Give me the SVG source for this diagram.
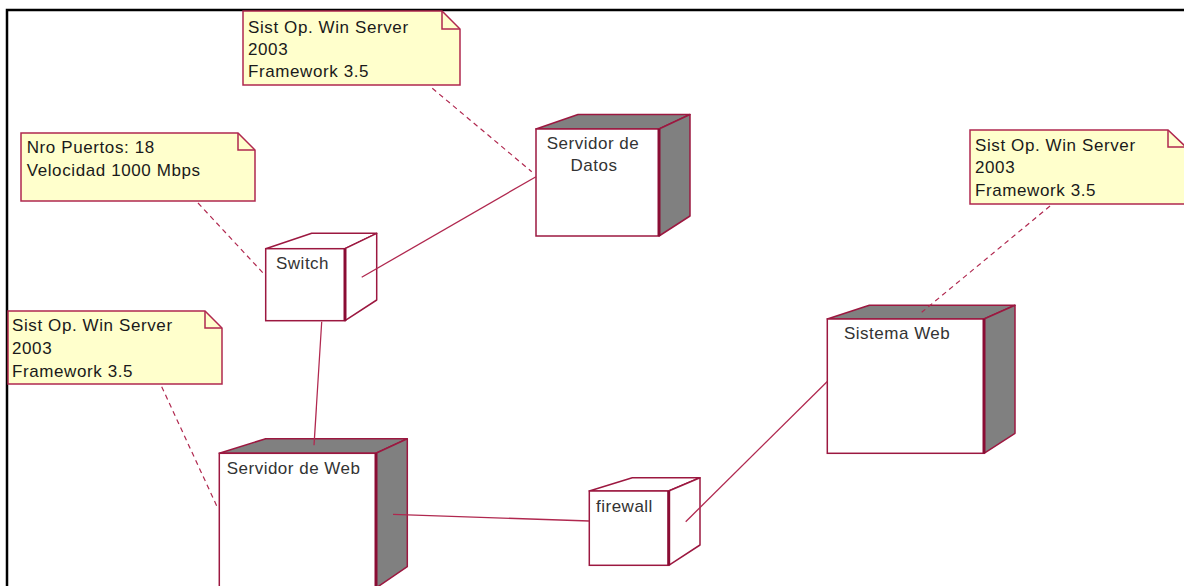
<svg xmlns="http://www.w3.org/2000/svg" width="1184" height="586" viewBox="0 0 1184 586">
<style>
.frame{fill:none;stroke:#000;stroke-width:2.5}
.note{fill:#ffffcc;stroke:#b0284f;stroke-width:1.5;stroke-linejoin:miter}
.fold{fill:none;stroke:#b0284f;stroke-width:1.5}
.front{fill:#fff;stroke:#9c1840;stroke-width:1.5}
.edge{stroke:#8a0c34;stroke-width:3}
.dark{fill:#808080;stroke:#9c1840;stroke-width:1.5;stroke-linejoin:round}
.light{fill:#fff;stroke:#9c1840;stroke-width:1.5;stroke-linejoin:round}
.conn{stroke:#b0284f;stroke-width:1.3;fill:none}
.dash{stroke:#b0284f;stroke-width:1.2;fill:none;stroke-dasharray:5 4}
.t{font-family:"Liberation Sans",Arial,sans-serif;font-size:17px;letter-spacing:0.6px;fill:#1a1a1a}
.nl{font-family:"Liberation Sans",Arial,sans-serif;font-size:17px;letter-spacing:0.5px;fill:#333}
</style>
<rect width="1184" height="586" fill="#fff"/>
<path class="frame" d="M7,586 V10 H1184"/>

<g id="note-datos">
<path class="note" d="M243,11 H442 L460,29 V85 H243 Z"/>
<path class="fold" d="M442,11 V29 H460"/>
<text class="t" x="248" y="32.7">Sist Op. Win Server</text>
<text class="t" x="248" y="55">2003</text>
<text class="t" x="248" y="77.3">Framework 3.5</text>
</g>

<g id="note-switch">
<path class="note" d="M21,133 H238 L255,150 V201 H21 Z"/>
<path class="fold" d="M238,133 V150 H255"/>
<text class="t" x="26.7" y="153.3">Nro Puertos: 18</text>
<text class="t" x="26.7" y="175.7">Velocidad 1000 Mbps</text>
</g>

<g id="note-sistema">
<path class="note" d="M970,130 H1168 L1186,147 V204 H970 Z"/>
<path class="fold" d="M1168,130 V147 H1186"/>
<text class="t" x="975" y="150.7">Sist Op. Win Server</text>
<text class="t" x="975" y="172.7">2003</text>
<text class="t" x="975" y="195.5">Framework 3.5</text>
</g>

<g id="note-web">
<path class="note" d="M8,311 H205 L222,328 V384 H8 Z"/>
<path class="fold" d="M205,311 V328 H222"/>
<text class="t" x="12" y="331">Sist Op. Win Server</text>
<text class="t" x="12" y="354">2003</text>
<text class="t" x="12" y="377">Framework 3.5</text>
</g>

<g id="node-datos">
<path class="dark" d="M536,129 L578,114.5 H690 L659,129 Z"/>
<path class="dark" d="M659,129 L690,114.5 V216 L659,236 Z"/>
<rect class="front" x="536" y="129" width="123" height="107"/>
<line class="edge" x1="659" y1="129" x2="659" y2="236"/>
<text class="nl" x="593" y="149.3" text-anchor="middle">Servidor de</text>
<text class="nl" x="594" y="171.3" text-anchor="middle">Datos</text>
</g>

<g id="node-switch">
<path class="light" d="M265.7,248.7 L311.7,233.3 H376.7 L345,248.7 Z"/>
<path class="light" d="M345,248.7 L376.7,233.3 V300 L345,320.7 Z"/>
<rect class="front" x="265.7" y="248.7" width="79.3" height="72"/>
<line class="edge" x1="345" y1="248.7" x2="345" y2="320.7"/>
<text class="nl" x="276" y="269.3">Switch</text>
</g>

<g id="node-web">
<path class="dark" d="M219.3,453.3 L265.7,438.7 H407.3 L376,453.3 Z"/>
<path class="dark" d="M376,453.3 L407.3,438.7 V566.7 L376,588 Z"/>
<rect class="front" x="219.3" y="453.3" width="156.7" height="140"/>
<line class="edge" x1="376" y1="453.3" x2="376" y2="590"/>
<text class="nl" x="226.7" y="474.3">Servidor de Web</text>
</g>

<g id="node-firewall">
<path class="light" d="M589.3,491 L632.3,477.7 H700 L668.7,491 Z"/>
<path class="light" d="M668.7,491 L700,477.7 V545 L668.7,565.3 Z"/>
<rect class="front" x="589.3" y="491" width="79.4" height="74.3"/>
<line class="edge" x1="668.7" y1="491" x2="668.7" y2="565.3"/>
<text class="nl" x="596" y="511.7">firewall</text>
</g>

<g id="node-sistema">
<path class="dark" d="M827.3,319 L869.3,305.3 H1015 L984,319 Z"/>
<path class="dark" d="M984,319 L1015,305.3 V433.3 L984,453.3 Z"/>
<rect class="front" x="827.3" y="319" width="156.7" height="134.3"/>
<line class="edge" x1="984" y1="319" x2="984" y2="453.3"/>
<text class="nl" x="844" y="339.3">Sistema Web</text>
</g>

<g id="connectors">
<line class="conn" x1="361.7" y1="277.3" x2="536" y2="176.7"/>
<line class="conn" x1="321.7" y1="321.7" x2="314" y2="445.3"/>
<polyline class="conn" points="393,514.3 589.3,521"/>
<line class="conn" x1="685.7" y1="521.7" x2="827.3" y2="381.5"/>
<line class="dash" x1="432.3" y1="88.3" x2="531.7" y2="171.7"/>
<line class="dash" x1="198" y1="203" x2="264.3" y2="274.3"/>
<line class="dash" x1="161.7" y1="386.7" x2="218.3" y2="509.3"/>
<line class="dash" x1="1050" y1="206" x2="921.7" y2="312.3"/>
</g>
</svg>
